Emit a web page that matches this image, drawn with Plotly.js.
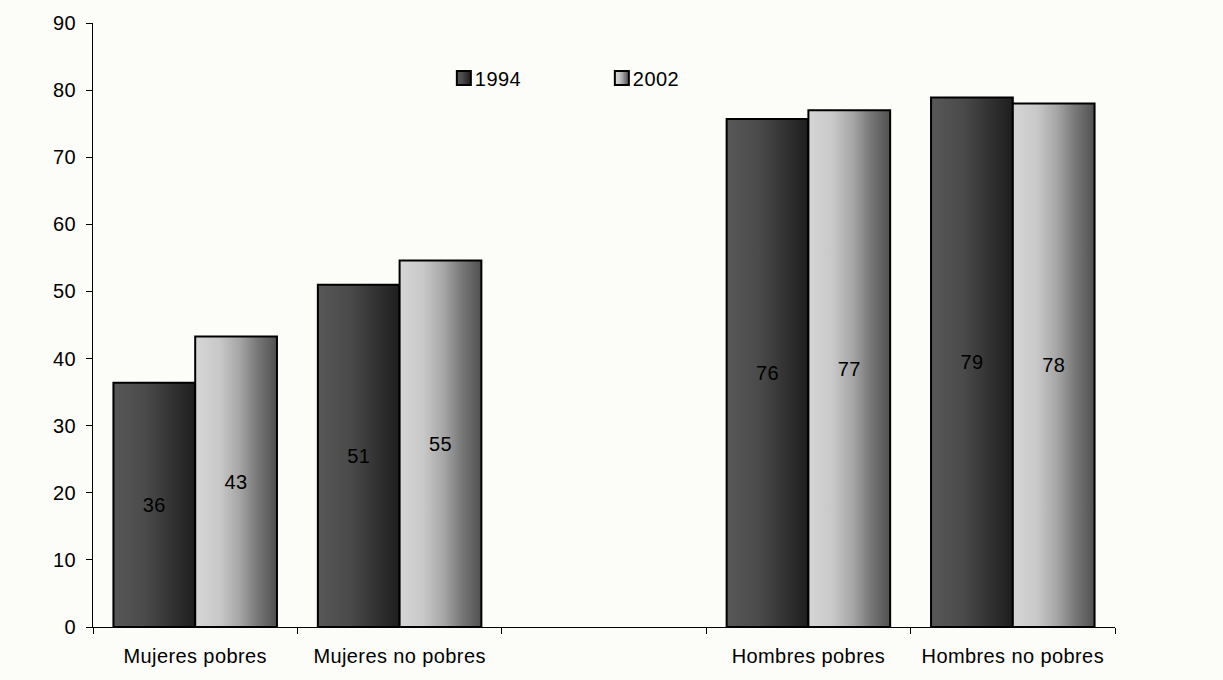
<!DOCTYPE html>
<html>
<head>
<meta charset="utf-8">
<script src="https://cdn.plot.ly/plotly-3.0.1.min.js"></script>
<style>
  html, body { margin: 0; padding: 0; background: #fcfdf8; }
  #chart { width: 1223px; height: 680px; }
  #chart svg text { letter-spacing: 0.4px; }
</style>
</head>
<body>
<div id="chart"></div>
<script>
// ---- data ----
const categories = ["Mujeres pobres", "Mujeres no pobres", " ", "Hombres pobres", "Hombres no pobres"];
const seriesNames = ["1994", "2002"];
const values1994 = [36.4, 51.0, null, 75.7, 78.9];
const values2002 = [43.3, 54.6, null, 77.0, 78.0];
const yTicks = [0, 10, 20, 30, 40, 50, 60, 70, 80, 90];

const FONT = "Liberation Sans, Arial, Helvetica, sans-serif";
const BG = "#fcfdf8";
const FS = 20;

function barTrace(name, vals) {
  return {
    type: "bar",
    name: name,
    x: categories,
    y: vals,
    texttemplate: "%{y:.0f}",
    textposition: "inside",
    insidetextanchor: "middle",
    constraintext: "none",
    textfont: { family: FONT, size: FS, color: "#000" },
    marker: { color: "#555", line: { color: "#000", width: 2 } },
    hoverinfo: "skip"
  };
}

const data = [barTrace(seriesNames[0], values1994), barTrace(seriesNames[1], values2002)];

const layout = {
  width: 1223,
  height: 680,
  margin: { l: 93, r: 108, t: 23, b: 53 },
  paper_bgcolor: BG,
  plot_bgcolor: BG,
  font: { family: FONT, size: FS, color: "#000" },
  barmode: "group",
  bargap: 0.2,
  bargroupgap: 0,
  showlegend: true,
  legend: {
    orientation: "h",
    x: 0.3433, xanchor: "left",
    y: 0.909, yanchor: "middle",
    bgcolor: "rgba(0,0,0,0)",
    font: { family: FONT, size: FS, color: "#000" },
    entrywidth: 113, entrywidthmode: "pixels",
    itemwidth: 30,
    traceorder: "normal"
  },
  xaxis: {
    type: "category",
    categoryorder: "array",
    categoryarray: categories,
    range: [-0.5, 4.5],
    showline: true, linecolor: "#000", linewidth: 1,
    ticks: "outside", tickson: "boundaries", ticklen: 6, tickcolor: "#000", tickwidth: 1,
    ticklabelstandoff: 11,
    showgrid: false, zeroline: false,
    tickfont: { family: FONT, size: FS, color: "#000" },
    fixedrange: true
  },
  yaxis: {
    range: [0, 90],
    tickvals: yTicks,
    ticktext: yTicks.map(String),
    showline: true, linecolor: "#000", linewidth: 1,
    ticks: "outside", ticklen: 6, tickcolor: "#000", tickwidth: 1,
    ticklabelstandoff: 6,
    showgrid: false, zeroline: false,
    tickfont: { family: FONT, size: FS, color: "#000" },
    fixedrange: true
  }
};

const gradients = {
  g1994: [[0, "#585858"], [0.4, "#4a4a4a"], [0.7, "#333333"], [1, "#1e1e1e"]],
  g2002: [[0, "#d6d6d6"], [0.3, "#c8c8c8"], [0.55, "#a4a4a4"], [0.75, "#7a7a7a"], [1, "#505050"]]
};
const gradIds = ["g1994", "g2002"];

function applyGradients(gd) {
  const NS = "http://www.w3.org/2000/svg";
  const svg = gd.querySelector(".main-svg");
  let defs = svg.querySelector("defs");
  if (!defs) { defs = document.createElementNS(NS, "defs"); svg.insertBefore(defs, svg.firstChild); }
  Object.keys(gradients).forEach(id => {
    if (document.getElementById(id)) return;
    const lg = document.createElementNS(NS, "linearGradient");
    lg.setAttribute("id", id);
    lg.setAttribute("x1", "0"); lg.setAttribute("y1", "0");
    lg.setAttribute("x2", "1"); lg.setAttribute("y2", "0");
    gradients[id].forEach(([o, c]) => {
      const s = document.createElementNS(NS, "stop");
      s.setAttribute("offset", o);
      s.setAttribute("stop-color", c);
      lg.appendChild(s);
    });
    defs.appendChild(lg);
  });
  const traces = gd.querySelectorAll(".barlayer .trace.bars");
  traces.forEach((t, i) => {
    t.querySelectorAll(".point path").forEach(p => { p.style.fill = "url(#" + gradIds[i] + ")"; });
  });
  const legTraces = gd.querySelectorAll(".legend .traces");
  legTraces.forEach((t, i) => {
    t.querySelectorAll(".legendpoints path").forEach(p => {
      p.style.fill = "url(#" + gradIds[i] + ")";
      p.style.stroke = "#000";
      p.style.strokeWidth = "2px";
      p.setAttribute("d", "M7,7H-7V-7H7Z");
    });
    const txt = t.querySelector(".legendtext");
    if (txt) txt.setAttribute("x", "31");
  });
}

const gd = document.getElementById("chart");
Plotly.newPlot(gd, data, layout, { displayModeBar: false, staticPlot: true }).then(() => {
  applyGradients(gd);
  gd.on && gd.on("plotly_afterplot", () => applyGradients(gd));
});
</script>
</body>
</html>
